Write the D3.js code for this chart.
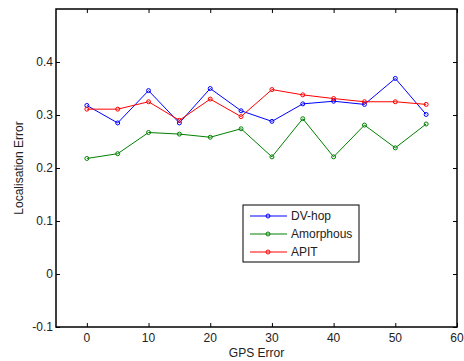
<!DOCTYPE html>
<html>
<head>
<meta charset="utf-8">
<script src="https://cdn.jsdelivr.net/npm/d3@7"></script>
<style>
body { margin: 0; background: #fff; }
text { font-family: "Liberation Sans", Arial, sans-serif; fill: #222; }
</style>
</head>
<body>
<div id="chart"></div>
<script>
// data
var gpsError = [0, 5, 10, 15, 20, 25, 30, 35, 40, 45, 50, 55];
var dvHop = [0.318, 0.285, 0.346, 0.285, 0.350, 0.308, 0.288, 0.321, 0.326, 0.320, 0.369, 0.301];
var amorphous = [0.218, 0.227, 0.267, 0.264, 0.258, 0.274, 0.221, 0.293, 0.221, 0.281, 0.238, 0.283];
var apit = [0.311, 0.311, 0.325, 0.290, 0.330, 0.297, 0.348, 0.338, 0.331, 0.325, 0.325, 0.320];
var seriesNames = ["DV-hop", "Amorphous", "APIT"];
var xTicks = [0, 10, 20, 30, 40, 50, 60];
var yTicks = [-0.1, 0, 0.1, 0.2, 0.3, 0.4];

var colors = ["#0000ff", "#008000", "#ff0000"];
var allSeries = [dvHop, amorphous, apit];

var width = 464, height = 361;
var plotLeft = 56, plotRight = 457, plotTop = 9, plotBottom = 327;

var svg = d3.select("#chart").append("svg")
	.attr("width", width)
	.attr("height", height);

var x = d3.scaleLinear().domain([-5, 60]).range([plotLeft, plotRight]);
var y = d3.scaleLinear().domain([-0.1, 0.5]).range([plotBottom, plotTop]);

var fmt = function(d) { return String(Math.round(d * 10) / 10); };

// matlab style ticks pointing inward, on all four sides
svg.append("g").attr("transform", "translate(0," + plotBottom + ")")
	.call(d3.axisTop(x).tickValues(xTicks).tickSize(4).tickFormat(""))
	.call(g => g.select(".domain").remove());
svg.append("g").attr("transform", "translate(0," + plotTop + ")")
	.call(d3.axisBottom(x).tickValues(xTicks).tickSize(4).tickFormat(""))
	.call(g => g.select(".domain").remove());
svg.append("g").attr("transform", "translate(" + plotLeft + ",0)")
	.call(d3.axisRight(y).tickValues(yTicks).tickSize(4).tickFormat(""))
	.call(g => g.select(".domain").remove());
svg.append("g").attr("transform", "translate(" + plotRight + ",0)")
	.call(d3.axisLeft(y).tickValues(yTicks).tickSize(4).tickFormat(""))
	.call(g => g.select(".domain").remove());

// tick labels
svg.append("g").selectAll("text")
	.data(xTicks).enter().append("text")
	.attr("x", d => x(d))
	.attr("y", plotBottom + 15)
	.attr("text-anchor", "middle")
	.style("font-size", "12px")
	.text(d => d);

svg.append("g").selectAll("text")
	.data(yTicks).enter().append("text")
	.attr("x", plotLeft - 3)
	.attr("y", d => y(d) + 4)
	.attr("text-anchor", "end")
	.style("font-size", "12px")
	.text(fmt);

svg.append("rect")
	.attr("x", plotLeft).attr("y", plotTop)
	.attr("width", plotRight - plotLeft).attr("height", plotBottom - plotTop)
	.attr("fill", "none").attr("stroke", "#000").attr("stroke-width", 1.5);

svg.append("text")
	.attr("x", (plotLeft + plotRight) / 2)
	.attr("y", 357)
	.attr("text-anchor", "middle")
	.style("font-size", "12px")
	.text("GPS Error");

svg.append("text")
	.attr("transform", "translate(23," + ((plotTop + plotBottom) / 2) + ") rotate(-90)")
	.attr("text-anchor", "middle")
	.style("font-size", "12px")
	.text("Localisation Error");

// lines + circle markers
var line = d3.line().x((d, i) => x(gpsError[i])).y(d => y(d));

allSeries.forEach(function(s, k) {
	svg.append("path")
		.datum(s)
		.attr("d", line)
		.attr("fill", "none")
		.attr("stroke", colors[k])
		.attr("stroke-width", 1);
	svg.append("g").selectAll("circle")
		.data(s).enter().append("circle")
		.attr("cx", (d, i) => x(gpsError[i]))
		.attr("cy", d => y(d))
		.attr("r", 2)
		.attr("fill", "none")
		.attr("stroke", colors[k])
		.attr("stroke-width", 1);
});

// legend
var legend = svg.append("g").attr("transform", "translate(243,205)");
legend.append("rect")
	.attr("width", 116).attr("height", 57)
	.attr("fill", "#fff").attr("stroke", "#000").attr("stroke-width", 1);

seriesNames.forEach(function(name, k) {
	var ly = 11 + k * 18;
	legend.append("line")
		.attr("x1", 7).attr("x2", 44)
		.attr("y1", ly).attr("y2", ly)
		.attr("stroke", colors[k]);
	legend.append("circle")
		.attr("cx", 25).attr("cy", ly).attr("r", 2)
		.attr("fill", "none").attr("stroke", colors[k]);
	legend.append("text")
		.attr("x", 48).attr("y", ly + 4)
		.style("font-size", "12px")
		.text(name);
});
</script>
</body>
</html>
